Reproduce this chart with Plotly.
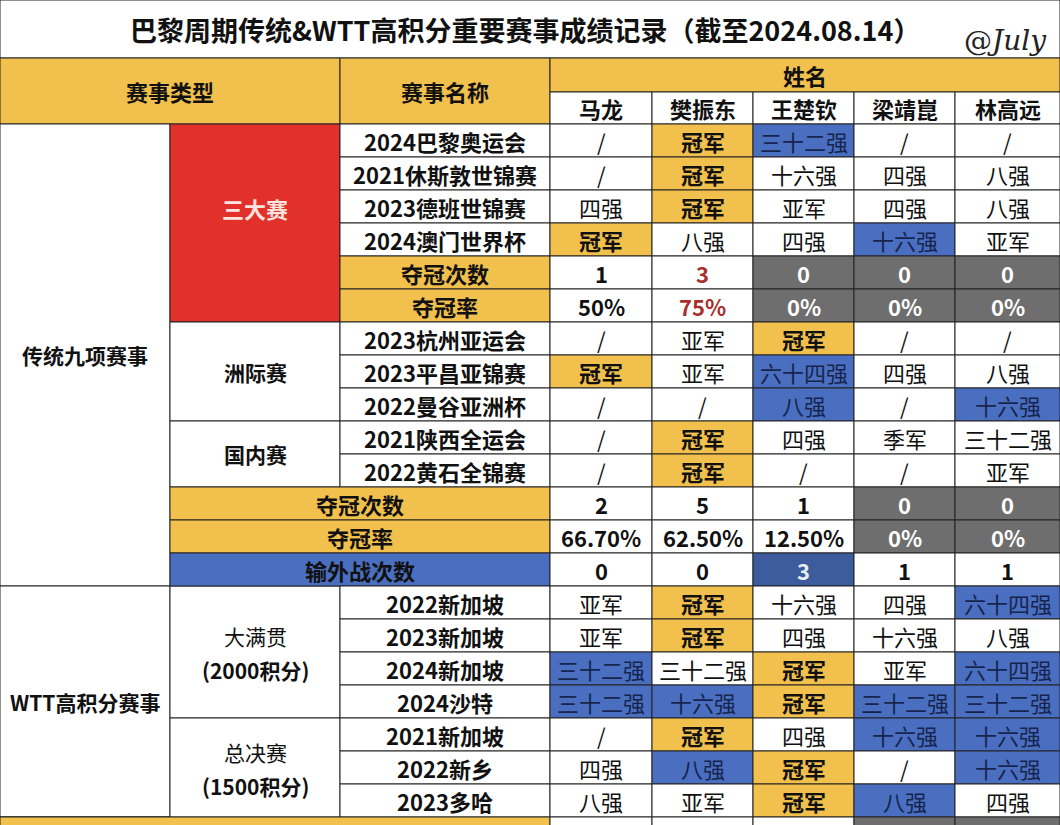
import plotly.graph_objects as go

players = ["马龙", "樊振东", "王楚钦", "梁靖崑", "林高远"]
events = ["2024巴黎奥运会", "2021休斯敦世锦赛", "2023德班世锦赛", "2024澳门世界杯", "夺冠次数", "夺冠率",
          "2023杭州亚运会", "2023平昌亚锦赛", "2022曼谷亚洲杯", "2021陕西全运会", "2022黄石全锦赛",
          "夺冠次数", "夺冠率", "输外战次数",
          "2022新加坡", "2023新加坡", "2024新加坡", "2024沙特", "2021新加坡", "2022新乡", "2023多哈", ""]
results = [
    ["/", "冠军", "三十二强", "/", "/"],
    ["/", "冠军", "十六强", "四强", "八强"],
    ["四强", "冠军", "亚军", "四强", "八强"],
    ["冠军", "八强", "四强", "十六强", "亚军"],
    ["1", "3", "0", "0", "0"],
    ["50%", "75%", "0%", "0%", "0%"],
    ["/", "亚军", "冠军", "/", "/"],
    ["冠军", "亚军", "六十四强", "四强", "八强"],
    ["/", "/", "八强", "/", "十六强"],
    ["/", "冠军", "四强", "季军", "三十二强"],
    ["/", "冠军", "/", "/", "亚军"],
    ["2", "5", "1", "0", "0"],
    ["66.70%", "62.50%", "12.50%", "0%", "0%"],
    ["0", "0", "3", "1", "1"],
    ["亚军", "冠军", "十六强", "四强", "六十四强"],
    ["亚军", "冠军", "四强", "十六强", "八强"],
    ["三十二强", "三十二强", "冠军", "亚军", "六十四强"],
    ["三十二强", "十六强", "冠军", "三十二强", "三十二强"],
    ["/", "冠军", "四强", "十六强", "十六强"],
    ["四强", "八强", "冠军", "/", "十六强"],
    ["八强", "亚军", "冠军", "八强", "四强"],
    ["", "", "", "", ""],
]
# cell highlight codes: W white, Y yellow, B blue, G grey, D dark blue, R red text
marks = [
    "WYBWW", "WYWWW", "WYWWW", "YWWBW", "WRGGG", "WRGGG",
    "WWYWW", "YWBWW", "WWBWB", "WYWWW", "WYWWW",
    "WWWGG", "WWWGG", "WWDWW",
    "WYWWB", "WYWWW", "BWYWB", "BBYBB", "WYWBB", "WBYWB", "WWYBW", "WWWGG",
]
label_kind = ["E"] * 4 + ["Y", "Y"] + ["E"] * 5 + ["Y", "Y", "B"] + ["E"] * 7 + ["Y"]

YEL, BLU, GRY, RED, DBL = "#F2C04C", "#4A6FC0", "#6E6E6E", "#E2302A", "#3C5C9E"
FONT = "Noto Sans CJK SC"
col_x = [550, 652, 753, 854, 955, 1060]
ROW0, RH = 124, 33

fig = go.Figure()
shapes, ann = [], []

def rect(x0, x1, y0, y1, fill="white", lw=1):
    shapes.append(dict(type="rect", xref="x", yref="y", x0=x0, x1=x1, y0=y0, y1=y1,
                       fillcolor=fill, line=dict(color="#222", width=lw), layer="below"))

def text(x, y, t, size=22, color="#111", bold=False):
    if bold and t:
        t = "<b>" + t + "</b>"
    ann.append(dict(x=x, y=y, xref="x", yref="y", text=t, showarrow=False,
                    font=dict(family=FONT, size=size, color=color)))

# title area
rect(0, 1060, 0, 58)
text(525, 29, "巴黎周期传统&WTT高积分重要赛事成绩记录（截至2024.08.14）", size=27, bold=True)
ann.append(dict(x=1005, y=40, xref="x", yref="y", text="@<i>July</i>", showarrow=False,
                font=dict(family="DejaVu Serif", size=28, color="#222")))
# header
rect(0, 340, 58, 124, YEL)
text(170, 91, "赛事类型", size=22, bold=True)
rect(340, 550, 58, 124, YEL)
text(445, 91, "赛事名称", size=22, bold=True)
rect(550, 1060, 58, 92, YEL)
text(805, 75, "姓名", size=22, bold=True)
for i, p in enumerate(players):
    rect(col_x[i], col_x[i + 1], 92, 124)
    text((col_x[i] + col_x[i + 1]) / 2, 108, p, size=22, bold=True)

def ry(i):
    return ROW0 + i * RH
rect(0, 170, ry(0), ry(14)); text(85, (ry(0) + ry(14)) / 2, "传统九项赛事", size=21, bold=True)
rect(0, 170, ry(14), ry(21)); text(85, (ry(14) + ry(21)) / 2, "WTT高积分赛事", size=21, bold=True)
rect(170, 340, ry(0), ry(6), RED); text(255, ry(3) - 15, "三大赛", size=22, color="#FBE3DF", bold=True)
rect(170, 340, ry(6), ry(9)); text(255, (ry(6) + ry(9)) / 2, "洲际赛", size=21, bold=True)
rect(170, 340, ry(9), ry(11)); text(255, (ry(9) + ry(11)) / 2, "国内赛", size=21, bold=True)
rect(170, 340, ry(14), ry(18)); text(255, (ry(14) + ry(18)) / 2 - 16, "大满贯", size=21)
text(255, (ry(14) + ry(18)) / 2 + 18, "(2000积分)", size=21, bold=True)
rect(170, 340, ry(18), ry(21)); text(255, (ry(18) + ry(21)) / 2 - 16, "总决赛", size=21)
text(255, (ry(18) + ry(21)) / 2 + 18, "(1500积分)", size=21, bold=True)
rect(0, 170, ry(21), ry(22))

for r, ev in enumerate(events):
    y0, y1 = ry(r), ry(r + 1)
    yc = (y0 + y1) / 2
    k = label_kind[r]
    if k == "E":
        rect(340, 550, y0, y1); text(445, yc, ev, bold=True)
    else:
        x0 = 340 if r < 6 else 170
        if r == 21:
            x0 = 0
        rect(x0, 550, y0, y1, YEL if k == "Y" else BLU)
        text((x0 + 550) / 2, yc, ev, bold=True)
    for c in range(5):
        m = marks[r][c]
        v = results[r][c]
        fill = {"W": "white", "R": "white", "Y": YEL, "B": BLU, "G": GRY, "D": DBL}[m]
        rect(col_x[c], col_x[c + 1], y0, y1, fill)
        xc = (col_x[c] + col_x[c + 1]) / 2
        numeric = any(ch.isdigit() for ch in v)
        if m == "G":
            text(xc, yc, v, color="white", bold=True)
        elif m == "R":
            text(xc, yc, v, color="#A8302C", bold=True)
        elif m == "D":
            text(xc, yc, v, color="#E8ECF5", bold=True)
        elif m == "B":
            text(xc, yc, v, color="#16244E")
        else:
            text(xc, yc, v, color="#111", bold=(v == "冠军" or numeric))

fig.update_layout(width=1060, height=825, margin=dict(l=0, r=0, t=0, b=0),
                  paper_bgcolor="white", plot_bgcolor="white",
                  xaxis=dict(range=[0, 1060], visible=False, fixedrange=True),
                  yaxis=dict(range=[825, 0], visible=False, fixedrange=True),
                  shapes=shapes, annotations=ann, showlegend=False)
fig.write_html("out.html", config={"displayModeBar": False},
               post_script="document.body.style.margin='0';document.body.style.overflow='hidden';")
